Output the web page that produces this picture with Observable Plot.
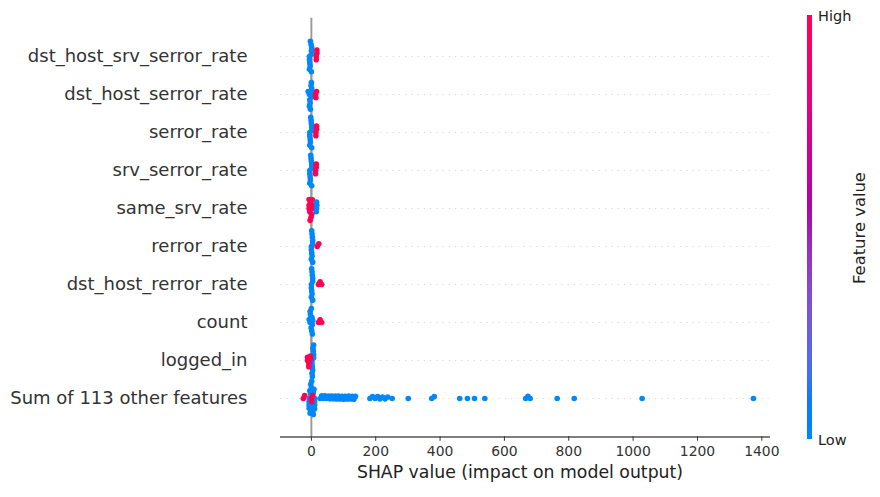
<!DOCTYPE html>
<html>
<head>
<meta charset="utf-8">
<script src="https://cdn.jsdelivr.net/npm/d3@7"></script>
<script src="https://cdn.jsdelivr.net/npm/@observablehq/plot@0.6"></script>
<style>
  html, body { margin: 0; padding: 0; background: #fff; }
  #wrap { position: relative; width: 880px; height: 497px; font-family: "DejaVu Sans", sans-serif; }
  #wrap svg { position: absolute; left: 0; top: 0; }
  .ov { position: absolute; white-space: nowrap; }
</style>
</head>
<body>
<div id="wrap"></div>
<script>
// ---- data (SHAP units), one entry per feature, top to bottom ----
const features = [
  "dst_host_srv_serror_rate",
  "dst_host_serror_rate",
  "serror_rate",
  "srv_serror_rate",
  "same_srv_rate",
  "rerror_rate",
  "dst_host_rerror_rate",
  "count",
  "logged_in",
  "Sum of 113 other features"
];
// SHAP values of points with a low feature value (blue)
const lowShap = [
  [-6, 0, -6, 0, -5, 1, -4, -1, -6, 0, -3],
  [-6, 0, -10, 0, -5, 1, -4, -1, -6, 0, -3],
  [-5, 1, -5, 1, -4, 0, -3, -1, -5, 1, -2],
  [-5, 1, -5, 1, -4, 0, -3, -1, -5, 1, -2],
  [16, 17, 15, 16],
  [0, 4, 0, 4, 1, 3, 2, 2, 0, 4, 1],
  [0, 4, 0, 4, 1, 3, 2, 2, 0, 4, 1],
  [-4, 4, -7, 3, -1, 2, -3, 1, -4, 3, 0],
  [2, 7, 2, 7, 3, 6, 4, 5, 2, 7, 3],
  [-7, 10, 2, -7, 10, -3, 6, -7, 10, 2, -5, 8, -7, 10, 0, 4, -2, 6, 1, -4,
   27, 32, 37, 42, 47, 53, 58, 63, 68, 74, 79, 84, 89, 95, 100, 105, 111, 116, 121, 127, 132, 137,
   182, 190, 198, 206, 213, 221, 229, 237, 251,
   301, 374, 382, 461, 485, 507, 539, 666, 673, 680, 764, 817, 1028, 1374]
];
// SHAP values of points with a high feature value (red)
const highShap = [
  [15, 17, 15, 17],
  [13, 16, 14],
  [14, 16, 14, 16],
  [13, 15, 13, 15],
  [-7, 3, -7, 4, -5, 1, -3, -1, -7, 3, -4],
  [18, 23],
  [22, 32, 27],
  [22, 32, 27],
  [-12, -3, -8, -12, -3, -8],
  [-25, -21, 0, 4, 1]
];
const xTicks = [0, 200, 400, 600, 800, 1000, 1200, 1400];
const xDomain = [-96, 1427];

// SHAP red_blue colormap (LCH path blue -> red, lightness dipping to 40)
const shapInterp = t => {
  const l = t < 0.5 ? 54 - 28 * t : 40 + 28 * (t - 0.5);
  const c = 70 + 20 * t;
  const h = 266.93 + (380.32 - 266.93) * t;
  return d3.hcl(h % 360, c, l).formatHex();
};

const majorData = [], minorData = [];
features.forEach((f, i) => {
  const lo = lowShap[i].map(v => ({feature: f, shap: v, fv: 0}));
  const hi = highShap[i].map(v => ({feature: f, shap: v, fv: 1}));
  if (lo.length >= hi.length) { majorData.push(...lo); minorData.push(...hi); }
  else { majorData.push(...hi); minorData.push(...lo); }
});

const step = 38.5;
const swarm = {anchor: "middle", padding: -2.4};
const plot = Plot.plot({
  width: 880,
  height: 497,
  marginTop: 15.5,
  marginBottom: 58,
  marginLeft: 280,
  marginRight: 110,
  style: {fontFamily: "DejaVu Sans", background: "transparent", overflow: "visible"},
  x: {domain: xDomain},
  fy: {domain: features, paddingInner: 0, paddingOuter: 0.5},
  color: {type: "linear", domain: [0, 1], interpolate: shapInterp},
  marks: [
    Plot.gridFy({stroke: "#cccccc", strokeOpacity: 1, strokeWidth: 0.7, strokeDasharray: "1.25,5"}),
    Plot.ruleX([0], {stroke: "#999999", strokeWidth: 1.9, insetTop: -step / 2, insetBottom: -step / 2}),
    Plot.dot(majorData, Plot.dodgeY(swarm, {x: "shap", fy: "feature", r: 2.8, fill: "fv"})),
    Plot.dot(minorData, Plot.dodgeY(swarm, {x: "shap", fy: "feature", r: 2.8, fill: "fv"})),
    Plot.ruleY([features[features.length - 1]], {fy: d => d, y: null, dy: step, stroke: "#000", strokeWidth: 1}),
    Plot.axisX(xTicks, {anchor: "bottom", dy: step / 2, tickSize: 4.5, tickFormat: d => String(d),
      fontSize: 13.9, fill: "#333", stroke: "#333", label: null}),
    Plot.axisFy({anchor: "left", tickSize: 0, tickPadding: 33, fontSize: 18, fill: "#333", label: null})
  ]
});

const wrap = document.getElementById("wrap");
wrap.appendChild(plot);

// colorbar (legend for the color scale)
const stops = d3.range(0, 1.0001, 0.05).map(t => `${shapInterp(t)} ${(t * 100).toFixed(1)}%`).join(",");
const bar = document.createElement("div");
bar.className = "ov";
Object.assign(bar.style, {left: "806.5px", top: "15px", width: "5px", height: "424px",
  background: `linear-gradient(to top, ${stops})`});
wrap.appendChild(bar);

function addText(txt, css) {
  const d = document.createElement("div");
  d.className = "ov";
  d.textContent = txt;
  Object.assign(d.style, css);
  wrap.appendChild(d);
  return d;
}
addText("High", {left: "818px", top: "8px", fontSize: "14.5px", color: "#222", lineHeight: "17px"});
addText("Low", {left: "818px", top: "431.5px", fontSize: "14.5px", color: "#222", lineHeight: "17px"});
addText("Feature value", {left: "859px", top: "228px", fontSize: "16.4px", color: "#222", lineHeight: "19px",
  transform: "translate(-50%, -50%) rotate(-90deg)"});
addText("SHAP value (impact on model output)", {left: "275px", width: "490px", top: "462px", textAlign: "center",
  fontSize: "17.3px", color: "#222", lineHeight: "20px"});
</script>
</body>
</html>
